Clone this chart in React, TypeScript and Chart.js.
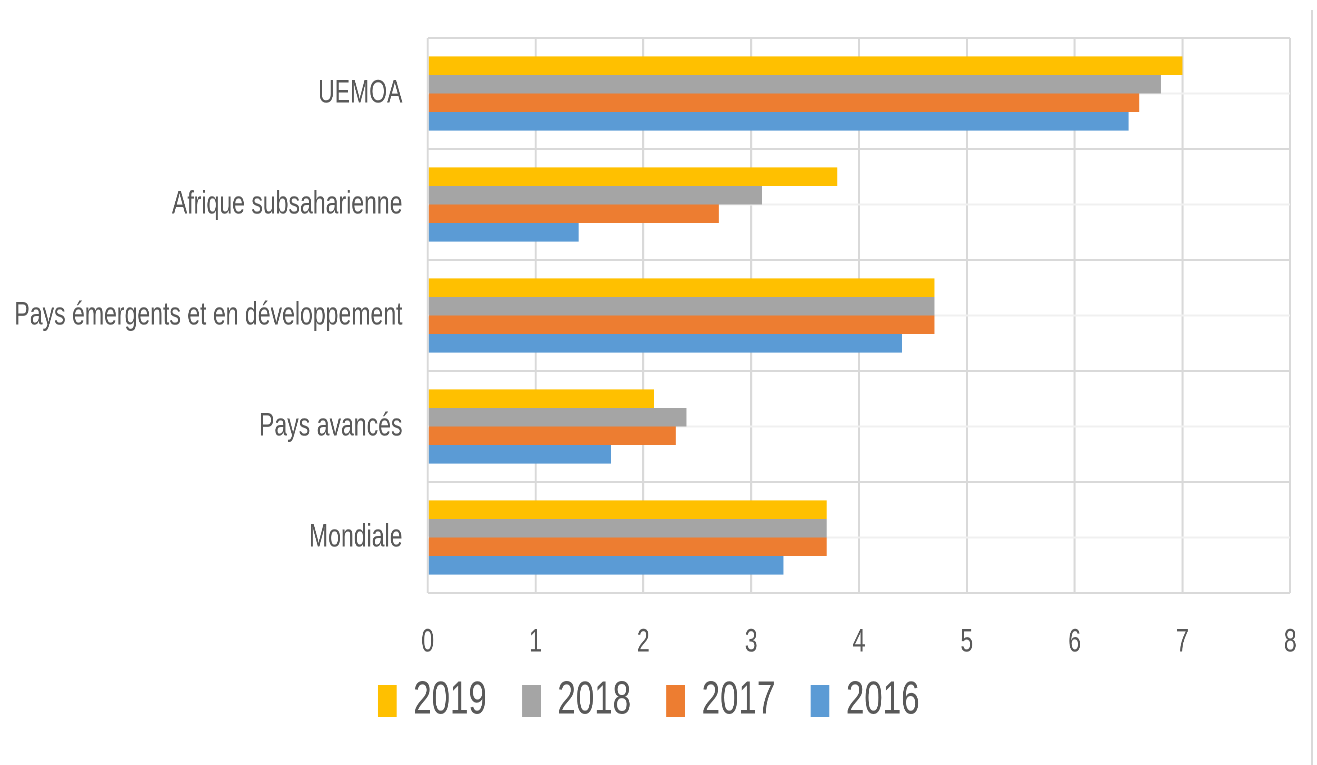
import { useEffect, useRef } from 'react';
import { Chart, registerables } from 'chart.js';

Chart.register(...registerables);

const categories = [
  'UEMOA',
  'Afrique subsaharienne',
  'Pays émergents et en développement',
  'Pays avancés',
  'Mondiale',
];
const seriesLabels = ['2019', '2018', '2017', '2016'];
const values2019 = [7.0, 3.8, 4.7, 2.1, 3.7];
const values2018 = [6.8, 3.1, 4.7, 2.4, 3.7];
const values2017 = [6.6, 2.7, 4.7, 2.3, 3.7];
const values2016 = [6.5, 1.4, 4.4, 1.7, 3.3];
const seriesColors = ['#FFC000', '#A5A5A5', '#ED7D31', '#5B9BD5'];
const xMin = 0;
const xMax = 8;
const xStep = 1;

const SX = 0.72; // horizontal condensation of the whole picture
const LOGICAL_W = 1806;
const H = 765;
const FONT = "'Liberation Sans', Arial, sans-serif";
const TEXT = '#595959';
const GRID = '#d9d9d9';

export default function App() {
  const ref = useRef<HTMLCanvasElement | null>(null);

  useEffect(() => {
    if (!ref.current) return;
    const seriesValues = [values2019, values2018, values2017, values2016];
    const chart = new Chart(ref.current, {
      type: 'bar',
      data: {
        labels: categories,
        datasets: seriesLabels.map((lab, i) => ({
          label: lab,
          data: seriesValues[i],
          backgroundColor: seriesColors[i],
          borderWidth: 0,
          categoryPercentage: 0.668,
          barPercentage: 1,
          yAxisID: 'y',
          xAxisID: 'x',
        })),
      },
      options: {
        indexAxis: 'y',
        animation: false,
        responsive: true,
        maintainAspectRatio: false,
        devicePixelRatio: 2,
        layout: { padding: { top: 38, right: 14, bottom: 31, left: 10 } },
        scales: {
          x: {
            type: 'linear',
            position: 'bottom',
            min: xMin,
            max: xMax,
            ticks: {
              stepSize: xStep,
              color: TEXT,
              font: { family: FONT, size: 32 },
              mirror: true,
              padding: -69,
            },
            grid: { color: GRID, lineWidth: 2.8, drawTicks: false },
            border: { display: false },
            afterFit: (scale: any) => {
              scale.height = 36;
              scale.paddingLeft = 0;
              scale.paddingRight = 0;
            },
          },
          y: {
            type: 'category',
            position: 'left',
            offset: true,
            ticks: {
              color: TEXT,
              font: { family: FONT, size: 32 },
              padding: 35,
            },
            grid: { color: GRID, lineWidth: 2, drawTicks: false, offset: true },
            border: { display: false },
            afterFit: (scale: any) => {
              scale.width = 584;
              scale.paddingTop = 0;
              scale.paddingBottom = 0;
            },
          },
          y2: {
            type: 'category',
            position: 'left',
            offset: true,
            ticks: { display: false },
            grid: { color: '#f0f0f0', lineWidth: 2, drawTicks: false, offset: false },
            border: { display: false },
            afterFit: (scale: any) => {
              scale.width = 0;
              scale.paddingTop = 0;
              scale.paddingBottom = 0;
            },
          },
        },
        plugins: {
          legend: {
            position: 'bottom',
            labels: {
              color: TEXT,
              font: { family: FONT, size: 46 },
              boxWidth: 26,
              boxHeight: 32,
              padding: 49,
            },
          },
          tooltip: { enabled: false },
        },
      },
    });
    return () => chart.destroy();
  }, []);

  return (
    <div
      style={{
        position: 'fixed',
        left: 0,
        top: 0,
        width: 1317,
        height: H,
        overflow: 'hidden',
        background: '#ffffff',
      }}
    >
      <div
        style={{
          position: 'absolute',
          left: 0,
          top: 0,
          width: LOGICAL_W,
          height: H,
          transform: `scaleX(${SX})`,
          transformOrigin: '0 0',
        }}
      >
        <canvas ref={ref} />
      </div>
      <div
        style={{
          position: 'absolute',
          left: 1311,
          top: 10,
          width: 2,
          height: H - 10,
          background: GRID,
        }}
      />
    </div>
  );
}
